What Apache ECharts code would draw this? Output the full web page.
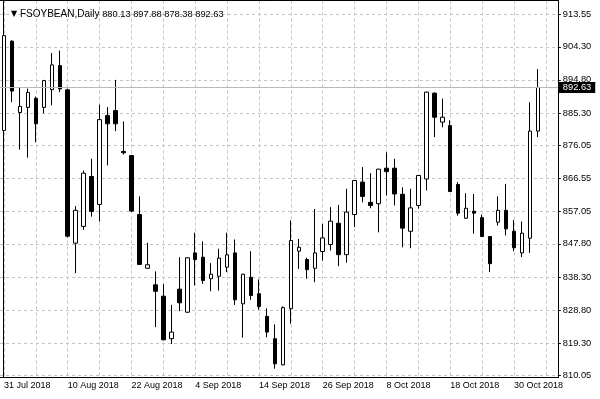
<!DOCTYPE html>
<html><head><meta charset="utf-8">
<script src="https://cdn.jsdelivr.net/npm/echarts@6/dist/echarts.min.js"></script>
<style>html,body{margin:0;padding:0;background:#fff}#c{width:600px;height:399px}</style>
</head><body><div id="c"></div>
<script>
const symbolName = 'FSOYBEAN,Daily';
const dates = [
 '31 Jul 2018','1 Aug 2018','2 Aug 2018','3 Aug 2018','6 Aug 2018','7 Aug 2018','8 Aug 2018','9 Aug 2018',
 '10 Aug 2018','13 Aug 2018','14 Aug 2018','15 Aug 2018','16 Aug 2018','17 Aug 2018','20 Aug 2018','21 Aug 2018',
 '22 Aug 2018','23 Aug 2018','24 Aug 2018','27 Aug 2018','28 Aug 2018','29 Aug 2018','30 Aug 2018','31 Aug 2018',
 '4 Sep 2018','5 Sep 2018','6 Sep 2018','7 Sep 2018','10 Sep 2018','11 Sep 2018','12 Sep 2018','13 Sep 2018',
 '14 Sep 2018','17 Sep 2018','18 Sep 2018','19 Sep 2018','20 Sep 2018','21 Sep 2018','24 Sep 2018','25 Sep 2018',
 '26 Sep 2018','27 Sep 2018','28 Sep 2018','1 Oct 2018','2 Oct 2018','3 Oct 2018','4 Oct 2018','5 Oct 2018',
 '8 Oct 2018','9 Oct 2018','10 Oct 2018','11 Oct 2018','12 Oct 2018','15 Oct 2018','16 Oct 2018','17 Oct 2018',
 '18 Oct 2018','19 Oct 2018','22 Oct 2018','23 Oct 2018','24 Oct 2018','25 Oct 2018','26 Oct 2018','29 Oct 2018',
 '30 Oct 2018','31 Oct 2018','1 Nov 2018','2 Nov 2018'
];
const opens = [
 880.3, 905.9, 885.45, 886.9, 889.5, 886.9, 892.0, 898.9,
 891.95, 848.0, 852.8, 867.1, 859.1, 884.6, 886.0, 874.3,
 873.1, 856.2, 840.8, 836.05, 832.8, 820.6, 834.8, 828.2,
 845.2, 843.97, 837.8, 838.5, 841.1, 845.2, 830.6, 838.2,
 833.5, 827.0, 820.6, 813.1, 829.2, 845.7, 843.3, 840.8,
 845.6, 847.6, 853.7, 844.7, 856.2, 865.5, 859.7, 859.3,
 869.5, 869.5, 862.0, 851.4, 858.8, 866.4, 891.0, 882.7,
 881.7, 864.8, 855.15, 857.15, 855.3, 849.9, 854.0, 857.4,
 851.4, 845.2, 849.4, 880.13
];
const closes = [
 907.5, 891.6, 887.2, 891.2, 882.2, 894.6, 899.1, 892.2,
 850.0, 857.4, 868.05, 857.1, 883.4, 882.2, 882.2, 873.9,
 857.2, 841.9, 841.8, 834.2, 820.3, 822.5, 830.9, 843.8,
 843.3, 837.3, 839.1, 843.7, 844.65, 831.75, 839.1, 833.0,
 829.8, 822.5, 813.4, 829.5, 848.75, 846.8, 840.4, 845.2,
 849.5, 854.3, 844.7, 856.9, 865.95, 861.4, 858.8, 869.2,
 868.5, 862.1, 852.3, 858.1, 867.4, 891.3, 884.1, 884.1,
 862.8, 856.6, 858.0, 856.6, 849.9, 842.1, 857.4, 852.1,
 846.7, 850.85, 880.13, 892.63
];
const lows = [
 878.0, 888.4, 874.8, 872.5, 876.9, 885.2, 887.5, 891.3,
 849.6, 839.4, 851.8, 855.6, 854.2, 870.3, 880.1, 873.4,
 857.0, 841.8, 840.7, 823.9, 820.1, 819.1, 828.5, 828.0,
 835.85, 836.3, 834.2, 834.4, 839.7, 830.3, 820.9, 831.75,
 828.9, 821.0, 812.0, 813.0, 824.9, 840.6, 837.8, 836.8,
 843.0, 845.9, 841.4, 842.4, 852.6, 859.7, 858.0, 851.1,
 861.65, 858.8, 846.8, 846.55, 857.85, 863.1, 878.4, 881.2,
 862.7, 855.9, 854.95, 850.7, 849.8, 839.7, 853.05, 850.2,
 845.7, 843.97, 845.2, 878.38
];
const highs = [
 911.8, 906.2, 892.6, 892.3, 890.0, 894.8, 902.5, 903.2,
 892.3, 858.6, 868.8, 872.2, 887.7, 887.0, 894.8, 882.9,
 873.3, 861.4, 848.1, 839.9, 836.3, 830.3, 843.97, 844.0,
 851.0, 848.5, 842.25, 846.4, 851.0, 849.05, 839.2, 845.7,
 837.6, 829.3, 824.7, 829.9, 854.5, 849.2, 843.8, 857.8,
 853.5, 858.3, 858.95, 863.6, 866.0, 869.8, 868.05, 869.3,
 874.05, 872.2, 864.0, 863.6, 867.5, 891.4, 891.2, 889.4,
 883.2, 865.5, 862.3, 862.1, 856.2, 850.0, 861.4, 865.0,
 854.65, 854.2, 888.4, 897.88
];
const priceTicks = [810.05, 819.30, 828.80, 838.30, 847.80, 857.05, 866.55, 876.05, 885.30, 894.80, 904.30, 913.55];
const shiftBars = ['', ''];

const FONT = 'Liberation Sans';
const last = dates.length - 1;
const fmt = v => v.toFixed(2);
const categories = dates.concat(shiftBars);
const ohlc = dates.map((d, i) => [opens[i], closes[i], lows[i], highs[i]]);
const labelInterval = (i, v) => i % 8 === 0 && v !== '';
const gridInterval = (i, v) => i % 4 === 0;
const dash = { color: '#c4c4c4', type: [3, 3], width: 1 };

const chart = echarts.init(document.getElementById('c'), null, { renderer: 'canvas' });
chart.setOption({
  animation: false,
  backgroundColor: '#fff',
  textStyle: { fontFamily: FONT },
  title: {
    left: 6, top: 4,
    text: '{tri|▼}{n| ' + symbolName + ' }{v|' + [opens[last], highs[last], lows[last], closes[last]].map(fmt).join(' ') + '}',
    textStyle: { fontWeight: 'normal', rich: {
      tri: { fontSize: 8, color: '#000', fontWeight: 'normal', fontFamily: 'DejaVu Sans' },
      n: { fontSize: 10, color: '#000', fontWeight: 'normal', fontFamily: FONT },
      v: { fontSize: 9.3, color: '#000', fontWeight: 'normal', fontFamily: FONT }
    } }
  },
  grid: { left: -0.8, right: 600 - 557.8, top: 0.5, bottom: 21.5 },
  xAxis: [{
    type: 'category', data: categories, boundaryGap: true,
    axisLine: { lineStyle: { color: '#000', width: 1 } },
    axisTick: { alignWithLabel: true, interval: labelInterval, length: 4, lineStyle: { color: '#000' } },
    axisLabel: { interval: labelInterval, align: 'left', margin: 4, color: '#000', fontSize: 9, fontFamily: FONT },
    splitLine: { show: true, alignWithLabel: true, interval: gridInterval, lineStyle: dash }
  }, {
    type: 'category', data: categories, position: 'top',
    axisLine: { show: true, lineStyle: { color: '#000' } },
    axisTick: { show: false }, axisLabel: { show: false }, splitLine: { show: false }
  }],
  yAxis: [{
    type: 'value', position: 'right', min: 809.48, max: 917.56, scale: true,
    axisLine: { show: true, lineStyle: { color: '#000' } },
    axisTick: { show: true, length: 3, customValues: priceTicks, lineStyle: { color: '#000' } },
    axisLabel: { customValues: priceTicks, formatter: v => fmt(v), margin: 5, color: '#000', fontSize: 9.3, fontFamily: FONT },
    splitLine: { show: true, lineStyle: dash }
  }, {
    type: 'value', position: 'left', offset: -3.3, min: 0, max: 1,
    axisLine: { show: true, lineStyle: { color: '#000' } },
    axisTick: { show: false }, axisLabel: { show: false }, splitLine: { show: false }
  }],
  series: [{
    type: 'candlestick', data: ohlc, barWidth: 4, xAxisIndex: 0, yAxisIndex: 0,
    itemStyle: { color: '#fff', color0: '#000', borderColor: '#000', borderColor0: '#000', borderColorDoji: '#000', borderWidth: 1 },
    emphasis: { disabled: true },
    markLine: {
      silent: true, symbol: ['none', 'none'], animation: false,
      data: [{ yAxis: closes[last] }],
      lineStyle: { color: '#b8b8b8', type: 'solid', width: 1 },
      label: { show: true, position: 'end', distance: 1, formatter: fmt(closes[last]),
        backgroundColor: '#000', color: '#fff', padding: [1, 4, 1, 4], fontSize: 9.3, fontFamily: FONT },
      emphasis: { disabled: true }
    }
  }]
});
</script></body></html>
